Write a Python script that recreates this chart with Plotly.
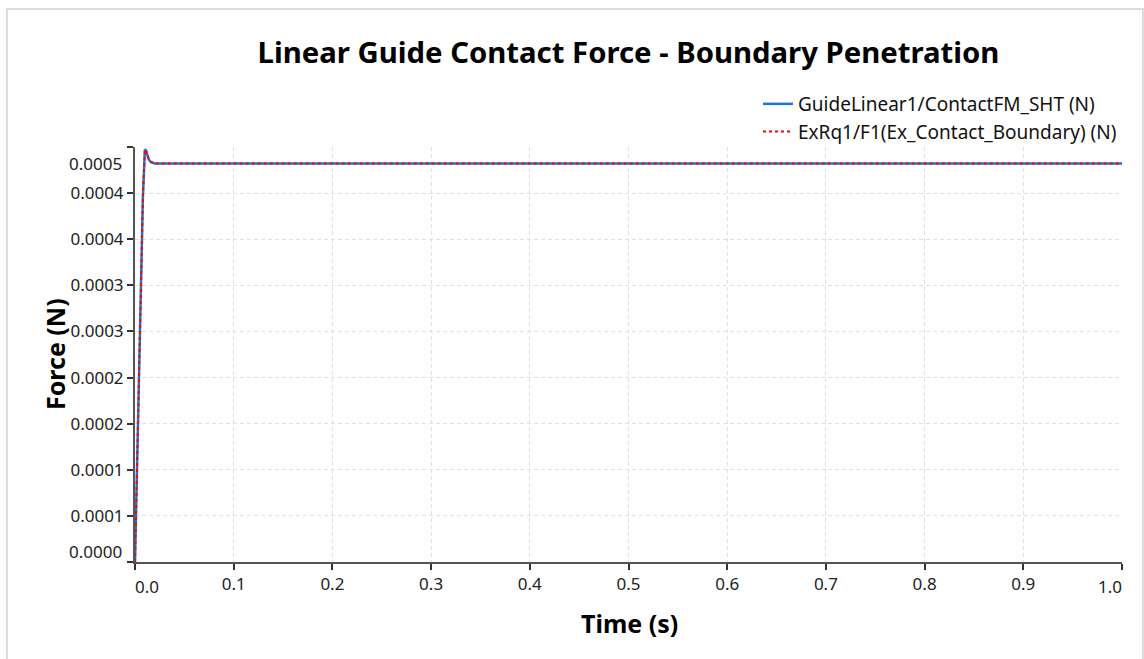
import plotly.graph_objects as go

# ---- data ----
time_s = [0.0, 0.001, 0.002, 0.003, 0.004, 0.005, 0.006, 0.007, 0.008, 0.009,
          0.010, 0.011, 0.012, 0.013, 0.014, 0.016, 0.018, 0.020, 0.05,
          0.1, 0.2, 0.3, 0.4, 0.5, 0.6, 0.7, 0.8, 0.9, 1.0]
contact_fm_sht = [0.0, 0.00005, 0.00011, 0.000165, 0.00022, 0.000275, 0.00033, 0.000385,
                  0.00044, 0.00048, 0.000497, 0.000496, 0.000492, 0.000488, 0.000485,
                  0.000482, 0.000481, 0.00048, 0.00048,
                  0.00048, 0.00048, 0.00048, 0.00048, 0.00048, 0.00048, 0.00048,
                  0.00048, 0.00048, 0.00048]
ex_contact_boundary = [0.0, 0.00005, 0.00011, 0.000165, 0.00022, 0.000275, 0.00033, 0.000385,
                       0.00044, 0.00048, 0.000497, 0.000496, 0.000492, 0.000488, 0.000485,
                       0.000482, 0.000481, 0.00048, 0.00048,
                       0.00048, 0.00048, 0.00048, 0.00048, 0.00048, 0.00048, 0.00048,
                       0.00048, 0.00048, 0.00048]

series_names = ["GuideLinear1/ContactFM_SHT (N)", "ExRq1/F1(Ex_Contact_Boundary) (N)"]

y_max = 0.0005
y_tick_vals = [0.0, 0.0000556, 0.0001111, 0.0001667, 0.0002222, 0.0002778,
               0.0003333, 0.0003889, 0.0004444, 0.0005]
y_tick_text = ["", "0.0001", "0.0001", "0.0002", "0.0002", "0.0003",
               "0.0003", "0.0004", "0.0004", ""]
y_end_labels = ["0.0000", "0.0005"]

x_tick_vals = [0.0, 0.1, 0.2, 0.3, 0.4, 0.5, 0.6, 0.7, 0.8, 0.9, 1.0]
x_tick_text = ["", "0.1", "0.2", "0.3", "0.4", "0.5", "0.6", "0.7", "0.8", "0.9", ""]
x_end_labels = ["0.0", "1.0"]

FONT = "Noto Sans"
TICK_SIZE = 17
W, H = 1144, 659
L, R, T, B = 135, 22, 147, 97
pw, ph = W - L - R, H - T - B


def px_x(p):
    return (p - L) / pw


def px_y(p):
    return (H - B - p) / ph


fig = go.Figure()
fig.add_trace(go.Scatter(x=time_s, y=contact_fm_sht, mode="lines", name=series_names[0],
                         line=dict(color="#1a78d2", width=2.5)))
fig.add_trace(go.Scatter(x=time_s, y=ex_contact_boundary, mode="lines", name=series_names[1],
                         line=dict(color="#ff0000", width=2, dash="dot")))

axis_common = dict(
    showline=True, linecolor="#555555", linewidth=2,
    ticks="outside", ticklen=6, tickwidth=2, tickcolor="#333333",
    showgrid=True, gridcolor="#e0e0e0", gridwidth=1, griddash="4px,3px",
    zeroline=False, tickfont=dict(family=FONT, size=TICK_SIZE, color="#222222"),
    mirror=False,
)

fig.update_xaxes(range=[0, 1.0], tickmode="array", tickvals=x_tick_vals,
                 ticktext=x_tick_text, **axis_common)
fig.update_yaxes(range=[0, y_max], tickmode="array", tickvals=y_tick_vals,
                 ticktext=y_tick_text, **axis_common)

annotations = [
    dict(text=y_end_labels[0], xref="paper", yref="paper", x=px_x(124), y=px_y(551),
         xanchor="right", yanchor="middle", showarrow=False,
         font=dict(family=FONT, size=TICK_SIZE, color="#222222")),
    dict(text=y_end_labels[1], xref="paper", yref="paper", x=px_x(124), y=px_y(163),
         xanchor="right", yanchor="middle", showarrow=False,
         font=dict(family=FONT, size=TICK_SIZE, color="#222222")),
    dict(text=x_end_labels[0], xref="paper", yref="paper", x=px_x(147), y=px_y(586),
         xanchor="center", yanchor="middle", showarrow=False,
         font=dict(family=FONT, size=TICK_SIZE, color="#222222")),
    dict(text=x_end_labels[1], xref="paper", yref="paper", x=px_x(1110), y=px_y(586),
         xanchor="center", yanchor="middle", showarrow=False,
         font=dict(family=FONT, size=TICK_SIZE, color="#222222")),
    dict(text="<b>Time (s)</b>", xref="paper", yref="paper", x=px_x(629), y=px_y(623),
         xanchor="center", yanchor="middle", showarrow=False,
         font=dict(family=FONT, size=25, color="#000000")),
    dict(text="<b>Force (N)</b>", xref="paper", yref="paper", x=px_x(55), y=px_y(354),
         xanchor="center", yanchor="middle", showarrow=False, textangle=-90,
         font=dict(family=FONT, size=25, color="#000000")),
]

fig.update_layout(
    width=W, height=H,
    margin=dict(l=L, r=R, t=T, b=B),
    paper_bgcolor="white", plot_bgcolor="white",
    title=dict(text="<b>Linear Guide Contact Force - Boundary Penetration</b>",
               x=0.5, xref="paper", xanchor="center",
               y=1 - 53 / H, yref="container", yanchor="middle",
               font=dict(family=FONT, size=29.3, color="#000000")),
    legend=dict(x=1.0, xanchor="right", y=px_y(85), yanchor="top",
                bgcolor="rgba(0,0,0,0)", font=dict(family=FONT, size=19, color="#111111"),
                tracegroupgap=0, itemwidth=30),
    showlegend=True,
    annotations=annotations,
    shapes=[dict(type="rect", xref="paper", yref="paper",
                 x0=px_x(7), x1=px_x(1143), y0=px_y(670), y1=px_y(9),
                 line=dict(color="#dcdcdc", width=2), fillcolor="rgba(0,0,0,0)",
                 layer="below")],
)

fig.write_html("out.html", config={"displayModeBar": False},
               post_script="document.body.style.margin='0px';")
